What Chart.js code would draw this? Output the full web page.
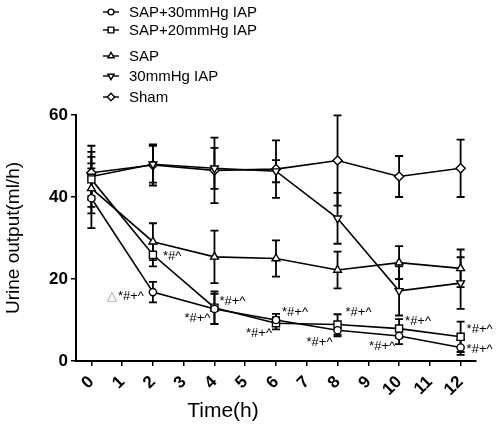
<!DOCTYPE html>
<html>
<head>
<meta charset="utf-8">
<script src="https://cdn.jsdelivr.net/npm/chart.js@4.4.0/dist/chart.umd.min.js"></script>
<style>
body{margin:0;background:#fff}
#wrap{width:498px;height:430px;position:relative}
</style>
</head>
<body>
<div id="wrap"><canvas id="urineChart"></canvas></div>
<script>
// time points (h) and axis ticks
var hours = [0, 2, 4, 6, 8, 10, 12];
var xTicks = [0, 1, 2, 3, 4, 5, 6, 7, 8, 9, 10, 11, 12];
var yTicks = [0, 20, 40, 60];

var groupNames = ['SAP+30mmHg IAP', 'SAP+20mmHg IAP', 'SAP', '30mmHg IAP', 'Sham'];

// mean urine output (ml/h)
var sap30 = [39.7, 16.8, 12.7, 10.0, 7.5, 6.1, 3.3];
var sap20 = [44.3, 25.9, 13.0, 9.2, 8.9, 7.9, 5.9];
var sapOnly = [42.1, 29.1, 25.4, 25.0, 22.2, 24.0, 22.6];
var iap30 = [45.0, 48.0, 47.0, 46.3, 34.8, 17.1, 19.0];
var sham = [45.9, 47.8, 46.5, 46.8, 48.9, 45.0, 47.0];

// SD
var sap30Sd = [7.3, 2.5, 3.7, 1.5, 1.5, 2.0, 1.8];
var sap20Sd = [6.7, 2.8, 4.0, 1.5, 2.5, 2.3, 3.7];
var sapOnlySd = [6.1, 4.5, 6.4, 4.4, 4.5, 4.0, 4.6];
var iap30Sd = [4.8, 4.5, 5.0, 2.7, 6.2, 6.0, 6.3];
var shamSd = [6.6, 5.0, 8.0, 7.0, 11.0, 5.0, 7.0];

var means = [sap30, sap20, sapOnly, iap30, sham];
var sds = [sap30Sd, sap20Sd, sapOnlySd, iap30Sd, shamSd];

var styles = [
	{pointStyle: 'circle', rotation: 0, radius: 3.6},
	{pointStyle: 'rect', rotation: 0, radius: 5},
	{pointStyle: 'triangle', rotation: 0, radius: 4.5},
	{pointStyle: 'triangle', rotation: 180, radius: 4.5},
	{pointStyle: 'rectRot', rotation: 0, radius: 4.6}
];

var FONT = 'Arial, "Liberation Sans", sans-serif';

// significance marks: group, time index, text, side, dx, dy
var notes = [
	[1, 1, '*#^', 'left', 10, 0],
	[0, 1, '*#+^', 'right', -9, 3, true],
	[1, 2, '*#+^', 'left', 5, -8],
	[0, 2, '*#+^', 'right', -4, 8],
	[1, 3, '*#+^', 'left', 6, -12],
	[0, 3, '*#+^', 'right', -4, 12],
	[1, 4, '*#+^', 'left', 8, -14],
	[0, 4, '*#+^', 'right', -5, 11],
	[1, 5, '*#+^', 'left', 6, -9],
	[0, 5, '*#+^', 'right', -4, 9],
	[1, 6, '*#+^', 'left', 6, -9],
	[0, 6, '*#+^', 'left', 6, 1]
];

var datasets = [];
for (var g = 0; g < groupNames.length; g++) {
	var pts = [];
	for (var i = 0; i < hours.length; i++) {
		pts.push({x: hours[i], y: means[g][i]});
	}
	datasets.push({
		label: groupNames[g],
		data: pts,
		borderColor: '#000',
		borderWidth: 1.6,
		backgroundColor: '#fff',
		pointBackgroundColor: '#fff',
		pointBorderColor: '#000',
		pointBorderWidth: 1.4,
		pointStyle: styles[g].pointStyle,
		pointRotation: styles[g].rotation,
		pointRadius: styles[g].radius,
		tension: 0
	});
}

var errorBars = {
	id: 'errorBars',
	beforeDatasetsDraw: function(chart) {
		var ctx = chart.ctx;
		var xs = chart.scales.x, ys = chart.scales.y;
		ctx.save();
		ctx.strokeStyle = '#000';
		ctx.lineWidth = 1.8;
		for (var g = 0; g < means.length; g++) {
			for (var i = 0; i < hours.length; i++) {
				var px = xs.getPixelForValue(hours[i]);
				var top = ys.getPixelForValue(means[g][i] + sds[g][i]);
				var bot = ys.getPixelForValue(means[g][i] - sds[g][i]);
				ctx.beginPath();
				ctx.moveTo(px, top); ctx.lineTo(px, bot);
				ctx.moveTo(px - 4, top); ctx.lineTo(px + 4, top);
				ctx.moveTo(px - 4, bot); ctx.lineTo(px + 4, bot);
				ctx.stroke();
			}
		}
		ctx.restore();
	}
};

var extras = {
	id: 'extras',
	afterDraw: function(chart) {
		var ctx = chart.ctx;
		var area = chart.chartArea;
		ctx.save();
		// significance marks
		ctx.font = '13px ' + FONT;
		ctx.textBaseline = 'alphabetic';
		notes.forEach(function(n) {
			var pt = chart.getDatasetMeta(n[0]).data[n[1]];
			var x = pt.x + n[4];
			var y = pt.y + n[5] + 5;
			ctx.fillStyle = '#000';
			ctx.textAlign = n[3];
			ctx.fillText(n[2], x, y);
			if (n[6]) {
				var w = ctx.measureText(n[2]).width;
				ctx.fillStyle = '#8a8a8a';
				ctx.textAlign = 'right';
				ctx.fillText('\u25B3', x - w - 1, y);
			}
		});
		// x title
		ctx.fillStyle = '#000';
		ctx.font = '21px ' + FONT;
		ctx.textAlign = 'center';
		ctx.textBaseline = 'middle';
		ctx.fillText('Time(h)', area.left + 147, 411);
		// legend
		var rows = [12, 30, 56, 76, 97];
		ctx.font = '15px ' + FONT;
		ctx.textAlign = 'left';
		for (var g = 0; g < groupNames.length; g++) {
			var y = rows[g];
			ctx.strokeStyle = '#000';
			ctx.lineWidth = 1.4;
			ctx.beginPath();
			ctx.moveTo(103, y); ctx.lineTo(119, y);
			ctx.stroke();
			ctx.fillStyle = '#fff';
			Chart.helpers.drawPoint(ctx, {
				pointStyle: styles[g].pointStyle,
				rotation: styles[g].rotation,
				radius: styles[g].radius * 0.8,
				borderWidth: 1.2
			}, 111, y);
			ctx.fillStyle = '#000';
			ctx.fillText(groupNames[g], 129, y + 1);
		}
		ctx.restore();
	}
};

var ctx = document.getElementById('urineChart');
var urineChart = new Chart(ctx, {
	type: 'line',
	data: {datasets: datasets},
	plugins: [errorBars, extras],
	options: {
		responsive: true,
		maintainAspectRatio: false,
		animation: false,
		devicePixelRatio: 1,
		layout: {padding: {top: 115, right: 22, left: 0, bottom: 0}},
		plugins: {legend: {display: false}, tooltip: {enabled: false}},
		scales: {
			x: {
				type: 'linear',
				min: -0.5,
				max: 12.5,
				afterBuildTicks: function(scale) {
					scale.ticks = xTicks.map(function(v) { return {value: v}; });
				},
				afterFit: function(scale) {
					scale.height = 69;
					scale.paddingLeft = 0;
					scale.paddingRight = 0;
				},
				ticks: {
					minRotation: 45,
					maxRotation: 45,
					color: '#000',
					padding: 6,
					font: {family: FONT, size: 17, weight: 'bold'}
				},
				grid: {drawOnChartArea: false, drawTicks: true, tickLength: 5, color: '#000', lineWidth: 1.5},
				border: {color: '#000', width: 2}
			},
			y: {
				min: 0,
				max: 60,
				afterBuildTicks: function(scale) {
					scale.ticks = yTicks.map(function(v) { return {value: v}; });
				},
				afterFit: function(scale) {
					scale.width = 76;
					scale.paddingTop = 0;
					scale.paddingBottom = 0;
				},
				ticks: {
					color: '#000',
					padding: 3,
					font: {family: FONT, size: 17, weight: 'bold'}
				},
				grid: {drawOnChartArea: false, drawTicks: true, tickLength: 5, color: '#000', lineWidth: 1.5},
				border: {color: '#000', width: 2},
				title: {
					display: true,
					text: 'Urine output(ml/h)',
					color: '#000',
					padding: {top: 2, bottom: 2},
					font: {family: FONT, size: 19}
				}
			}
		}
	}
});
</script>
</body>
</html>
